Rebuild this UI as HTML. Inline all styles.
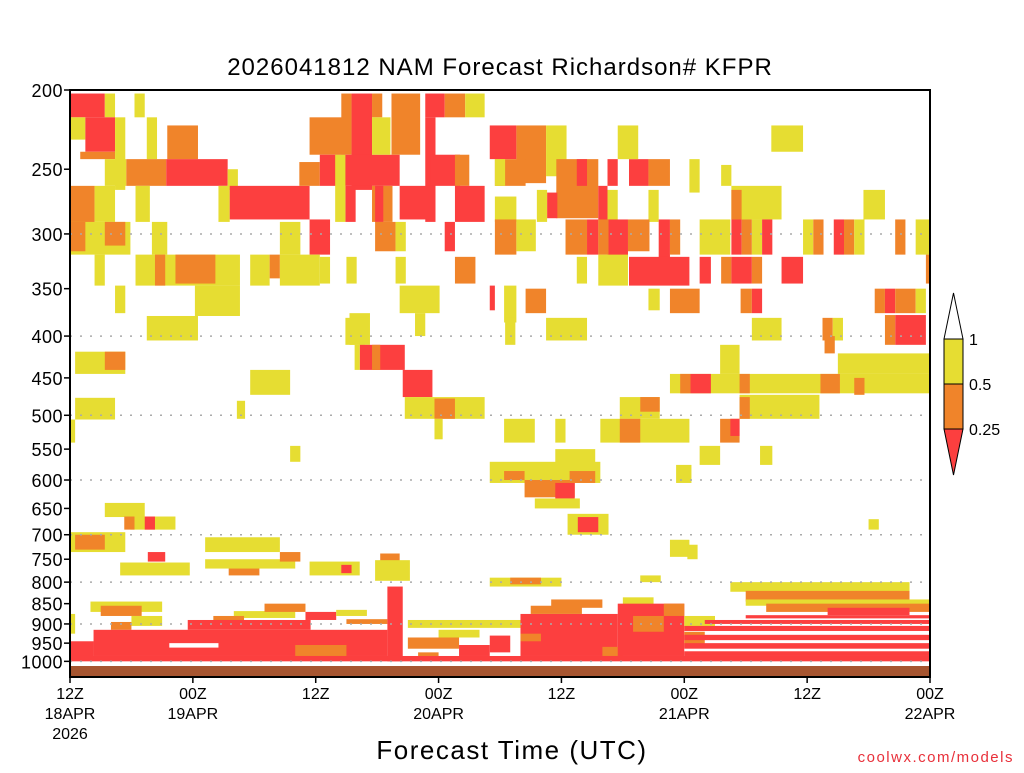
<!DOCTYPE html>
<html><head><meta charset="utf-8"><style>
body{margin:0;background:#fff;}
svg text{font-family:"Liberation Sans",sans-serif;}
</style></head><body>
<svg id="chart" width="1024" height="768" xmlns="http://www.w3.org/2000/svg">
<rect width="1024" height="768" fill="#fff"/>
<text x="500" y="75" font-size="24" text-anchor="middle" letter-spacing="1">2026041812 NAM Forecast Richardson# KFPR</text>
<g id="cells"></g>
<g id="grid"></g>
<rect x="70" y="666" width="860" height="11" fill="#a65530"/>
<rect x="70" y="90" width="860" height="587" fill="none" stroke="#000" stroke-width="2"/>
<g id="yaxis"></g>
<g id="xaxis"></g>
<text x="512" y="759" font-size="26" text-anchor="middle" letter-spacing="1.5">Forecast Time (UTC)</text>
<text x="1014" y="762" font-size="15" text-anchor="end" fill="#e8303a" letter-spacing="1.5">coolwx.com/models</text>
<g>
<polygon points="944,339 953.5,293 963,339" fill="#fff" stroke="#000" stroke-width="1"/>
<rect x="944" y="339" width="19" height="45" fill="#e6dd32" stroke="#000"/>
<rect x="944" y="384" width="19" height="45" fill="#f0842a" stroke="#000"/>
<polygon points="944,429 953.5,475 963,429" fill="#fc3f3f" stroke="#000" stroke-width="1"/>
<text x="969" y="345" font-size="16">1</text>
<text x="969" y="390" font-size="16">0.5</text>
<text x="969" y="435" font-size="16">0.25</text>
</g>
</svg>
<script>
// rectangles: [hourStart, hourEnd, pressureTop, pressureBottom, category]
const blocksUpper = [
[0,3.4,202,216,3],[3.4,4.4,202,216,1],[0,1.5,216,230,1],[1.5,4.4,216,238,3],[1,4.4,238,243,2],
[4.4,5.4,216,265,1],[6.3,7.3,202,216,1],[7.5,8.5,216,243,1],[9.5,12.5,221,243,2],
[3.4,5.5,243,262,1],[5.5,9.4,243,262,2],[9.4,15.4,243,262,3],[15.4,16.4,250,265,1],
[0,2.4,262,292,2],[2.4,4.4,262,290,1],[6.4,7.8,262,290,1],[14.5,15.6,262,290,1],[15.6,23.4,262,288,3],
[0,5.9,290,318,1],[0,1.5,290,315,2],[3.4,5.4,290,310,2],[8,9.5,290,318,1],[20.5,22.5,290,318,1],[23.4,25.4,288,318,3],
[2.4,3.4,318,347,1],[6.4,16.6,318,347,1],[10.3,14.2,318,345,2],[8.3,9.3,318,347,2],[17.6,19.5,318,347,1],[19.5,20.5,318,340,2],[20.5,24.4,318,347,1],
[12.2,16.6,347,378,1],[4.4,5.4,347,375,1],[7.5,12.5,378,405,1],[27.3,29.3,375,410,1],[33.7,34.7,375,400,1],
[26.5,27.5,202,240,2],[27.5,29.5,202,265,3],[29.5,30.5,202,216,2],[23.4,26.9,216,240,2],[22.4,24.4,245,262,2],
[24.4,32.2,240,262,3],[29.5,31.3,216,240,1],[31.4,34.2,202,240,2],[34.7,36.6,202,216,3],[36.6,38.6,202,216,2],[38.6,40.5,202,216,1],
[34.7,35.7,216,290,3],[35.2,38.1,240,262,3],[37.6,39,240,262,2],[32.2,35.2,262,288,3],[37.6,40.5,262,290,3],[29.5,31.5,262,290,2],
[26.9,27.9,262,290,3],[29.8,30.6,262,290,3],[25.9,26.9,240,290,1],[36.6,37.6,290,315,3],[29.8,31.8,290,315,2],[31.8,32.8,290,315,1],
[37.6,39.6,320,345,2],[31.8,32.8,320,345,1],[24.4,25.4,320,345,1],[27,28,320,345,1]
];
const blocksRight = [
[41,43.6,221,243,3],[43.6,46.5,221,260,2],[46.5,48.5,221,255,1],[41.5,44.5,243,262,2],[41.5,42.5,243,262,1],
[47.5,51.6,243,287,2],[49.5,50.5,243,262,3],[46.6,47.6,267,287,3],[51.6,52.5,262,318,3],[52.5,53.5,243,262,3],
[54.6,56.5,243,262,3],[56.5,58.6,243,262,2],[53.5,55.5,221,243,1],[60.5,61.5,243,267,1],[63.6,64.6,247,262,1],[68.5,71.6,221,238,1],
[64.6,69.5,262,288,1],[64.6,65.6,265,288,2],[77.5,79.6,265,288,1],[45.6,46.6,265,290,1],[41.5,43.6,270,290,1],[52.5,53.5,265,290,1],[56.5,57.5,265,290,1],
[41.5,43.6,288,318,2],[43.6,45.5,288,315,1],[48.4,50.5,288,318,2],[50.5,51.6,288,318,3],[52.5,54.5,288,320,3],[51.6,52.6,288,318,2],
[54.5,56.6,288,315,2],[57.5,58.6,288,335,3],[58.6,59.6,288,318,2],[61.5,64.5,288,318,1],[64.6,65.6,288,318,3],[65.6,66.6,288,318,2],
[66.6,67.6,288,318,1],[67.6,68.6,288,318,3],[71.6,72.6,288,318,1],[72.6,73.6,288,318,2],[74.6,75.6,288,318,3],[75.6,76.6,288,318,2],
[76.6,77.6,288,318,1],[80.6,81.6,288,318,2],[82.6,84,288,318,1],
[54.6,60.5,320,347,3],[51.6,54.5,318,347,1],[61.5,62.6,320,345,3],[63.6,64.6,320,345,2],[64.6,66.6,320,345,3],[66.6,67.6,320,345,2],
[69.5,71.6,320,345,3],[49.5,50.5,320,345,1],[83.6,84,318,345,2],
[41,41.5,347,372,3],[42.4,43.6,347,385,1],[44.5,46.5,350,375,2],[56.5,57.6,350,372,1],[58.6,61.5,350,375,2],[65.5,66.6,350,375,2],
[66.6,67.6,350,375,3],[78.6,79.6,350,375,2],[79.6,80.6,350,375,3],[80.6,82.6,350,375,2],[82.6,83.6,350,375,1],[32.2,36.1,347,375,1],
[80.6,83.6,377,410,3],[79.6,80.6,377,410,2],[66.6,69.5,380,405,1],[73.5,74.5,380,405,2],[74.5,75.5,380,405,1],[46.5,50.5,380,405,1],[42.5,43.5,380,410,1]
];
const blocksMiddle = [
[26.9,28.8,380,410,1],[28.3,32.7,410,440,3],[29.5,30.3,410,440,2],[27.8,28.3,410,440,1],[32.5,35.4,440,475,3],
[32.7,40.5,475,505,1],[35.6,37.6,477,505,2],[35.6,36.4,505,535,1],
[42.4,45.4,505,540,1],[47.4,48.4,505,540,1],[41,51.8,570,605,1],[42.4,44.4,585,600,2],[44.4,49.3,600,630,2],[47.4,49.3,605,632,3],
[48.8,51.3,585,605,2],[45.4,49.8,632,650,1],[47.4,51.3,550,585,1],[48.6,52.6,660,700,1],[49.6,51.6,666,695,3],
[63.5,65.4,410,445,1],[58.6,84,445,470,1],[59.6,60.6,445,470,2],[60.6,62.6,445,470,3],[65.4,66.4,445,470,2],[73.3,75.2,445,470,2],[76.6,77.6,450,472,2],
[75,84,420,445,1],[73.7,74.7,400,420,2],[65.4,73.2,472,505,1],[65.4,66.4,475,505,2],[53.7,57.6,475,505,1],[55.7,57.6,475,495,2],
[51.8,60.5,505,540,1],[53.7,55.7,505,540,2],[63.5,65.4,505,540,2],[64.5,65.4,505,530,3],[61.5,63.5,545,575,1],[67.4,68.6,545,575,1],[59.2,60.7,575,605,1],
[0.5,5.4,418,445,1],[3.4,5.4,418,440,2],[17.6,21.5,440,472,1],[0.5,4.4,476,506,1],[0,0.5,506,540,1],[16.3,17.1,480,505,1],[21.5,22.5,545,570,1],
[3.4,7.3,640,666,1],[5.9,10.3,665,690,1],[7.3,8.3,665,690,3],[5.3,6.3,665,690,2],[78,79,670,690,1],
[0,5.4,695,735,1],[0.5,3.4,700,730,2],[13.2,20.5,705,735,1],[7.6,9.3,735,755,3],[58.6,60.5,710,745,1],[60.3,61.3,720,750,1]
];
const blocksLower = [
[4.9,11.7,757,785,1],[15.5,18.5,760,785,2],[13.2,22,750,770,1],[20.5,22.5,735,755,2],[30.3,32.2,738,757,2],[29.8,33.2,752,797,1],
[23.4,28.3,755,785,1],[26.5,27.5,762,780,3],[41,48,790,810,1],[43,46,790,805,2],[55.7,57.7,785,800,1],
[64.5,82,800,822,1],[66,82,820,845,2],[0,0.5,875,925,1],
[2,9,845,870,1],[3,7,855,880,2],[6,9,880,905,1],[4,6,895,915,2],[16,22,868,885,1],[14,17,880,900,2],[19,23,850,870,2],
[23,26,870,890,3],[26,29,865,880,1],[27,31,888,900,2],
[11.5,23.5,890,915,3],[2.3,31,915,985,3],[0,2.3,945,990,3],[22,27,955,985,2],[9.7,14.5,950,962,0],[31,32.5,810,1000,3],
[33,44,890,910,1],[36,40,915,935,1],[33,38,935,965,2],[38,41,955,985,3],[41,43,930,975,3],[34,36,975,985,2],
[44,53.5,875,985,3],[45,50,855,875,2],[47,52,840,860,2],[44,46,925,945,2],[52,54,960,985,2],
[54,57,835,855,1],[53.5,60,850,985,3],[55,58,880,920,2],[58,60,850,880,2],[60,63,880,910,1],[60,62,920,960,2],
[66,84,840,855,1],[68,84,850,870,2],[74,82,860,878,3],[66,84,878,886,3],[62,84,890,900,3],[60,84,905,918,3],
[60,84,928,942,3],[60,84,950,965,3],[60,84,972,985,3],
[0,84,985,1000,3]
];
const pressureTicks = [200,250,300,350,400,450,500,550,600,650,700,750,800,850,900,950,1000];
const gridPressures = [300,400,500,600,700,800,900,1000];
const timeTickHours = [0,12,24,36,48,60,72,84];
const timeTickLabels = ["12Z","00Z","12Z","00Z","12Z","00Z","12Z","00Z"];
const dateLabels = ["18APR","19APR","","20APR","","21APR","","22APR"];
const colors = ["#ffffff","#e6dd32","#f0842a","#fc3f3f"];

const NS="http://www.w3.org/2000/svg";
const X0=70, X1=930, HMAX=84;
function xs(h){return X0+(h/HMAX)*(X1-X0);}
function ys(p){return 90+355*Math.log(p/200);}
function mk(tag,attrs,parent){const e=document.createElementNS(NS,tag);for(const k in attrs)e.setAttribute(k,attrs[k]);parent.appendChild(e);return e;}

const cells=document.getElementById('cells');
[blocksUpper,blocksRight,blocksMiddle,blocksLower].forEach(arr=>{
  arr.forEach(b=>{
    const r=mk('rect',{x:xs(b[0]),y:ys(b[2]),width:Math.max(0,xs(b[1])-xs(b[0])),height:Math.max(0,ys(b[3])-ys(b[2])),fill:colors[b[4]]},cells);
    
    
  });
});
const grid=document.getElementById('grid');
gridPressures.forEach(p=>{
  const l=mk('line',{x1:X0,x2:X1,y1:ys(p),y2:ys(p),stroke:"#aaa","stroke-width":1.5,"stroke-dasharray":"2,8"},grid);
  
  
});
const ya=document.getElementById('yaxis');
pressureTicks.forEach(p=>{
  const y=ys(p);
  const t=mk('line',{x1:64,x2:70,y1:y,y2:y,stroke:"#000","stroke-width":1.5},ya);
  
  
  const tx=mk('text',{x:63,y:y+7,"font-size":18,"text-anchor":"end","letter-spacing":"0.5"},ya);
  tx.textContent=p;
  
  
});
const xa=document.getElementById('xaxis');
timeTickHours.forEach((h,i)=>{
  const x=xs(h);
  const t=mk('line',{x1:x,x2:x,y1:677,y2:683,stroke:"#000","stroke-width":1.5},xa);
  
  
  const a=mk('text',{x:x,y:699,"font-size":16,"text-anchor":"middle"},xa);
  a.textContent=timeTickLabels[i];
  
  
  if(dateLabels[i]){
    const d=mk('text',{x:x,y:719,"font-size":16,"text-anchor":"middle"},xa);
    d.textContent=dateLabels[i];
    
    
  }
});
const yr=mk('text',{x:xs(0),y:739,"font-size":16,"text-anchor":"middle"},xa);
yr.textContent="2026";


</script>
</body></html>
